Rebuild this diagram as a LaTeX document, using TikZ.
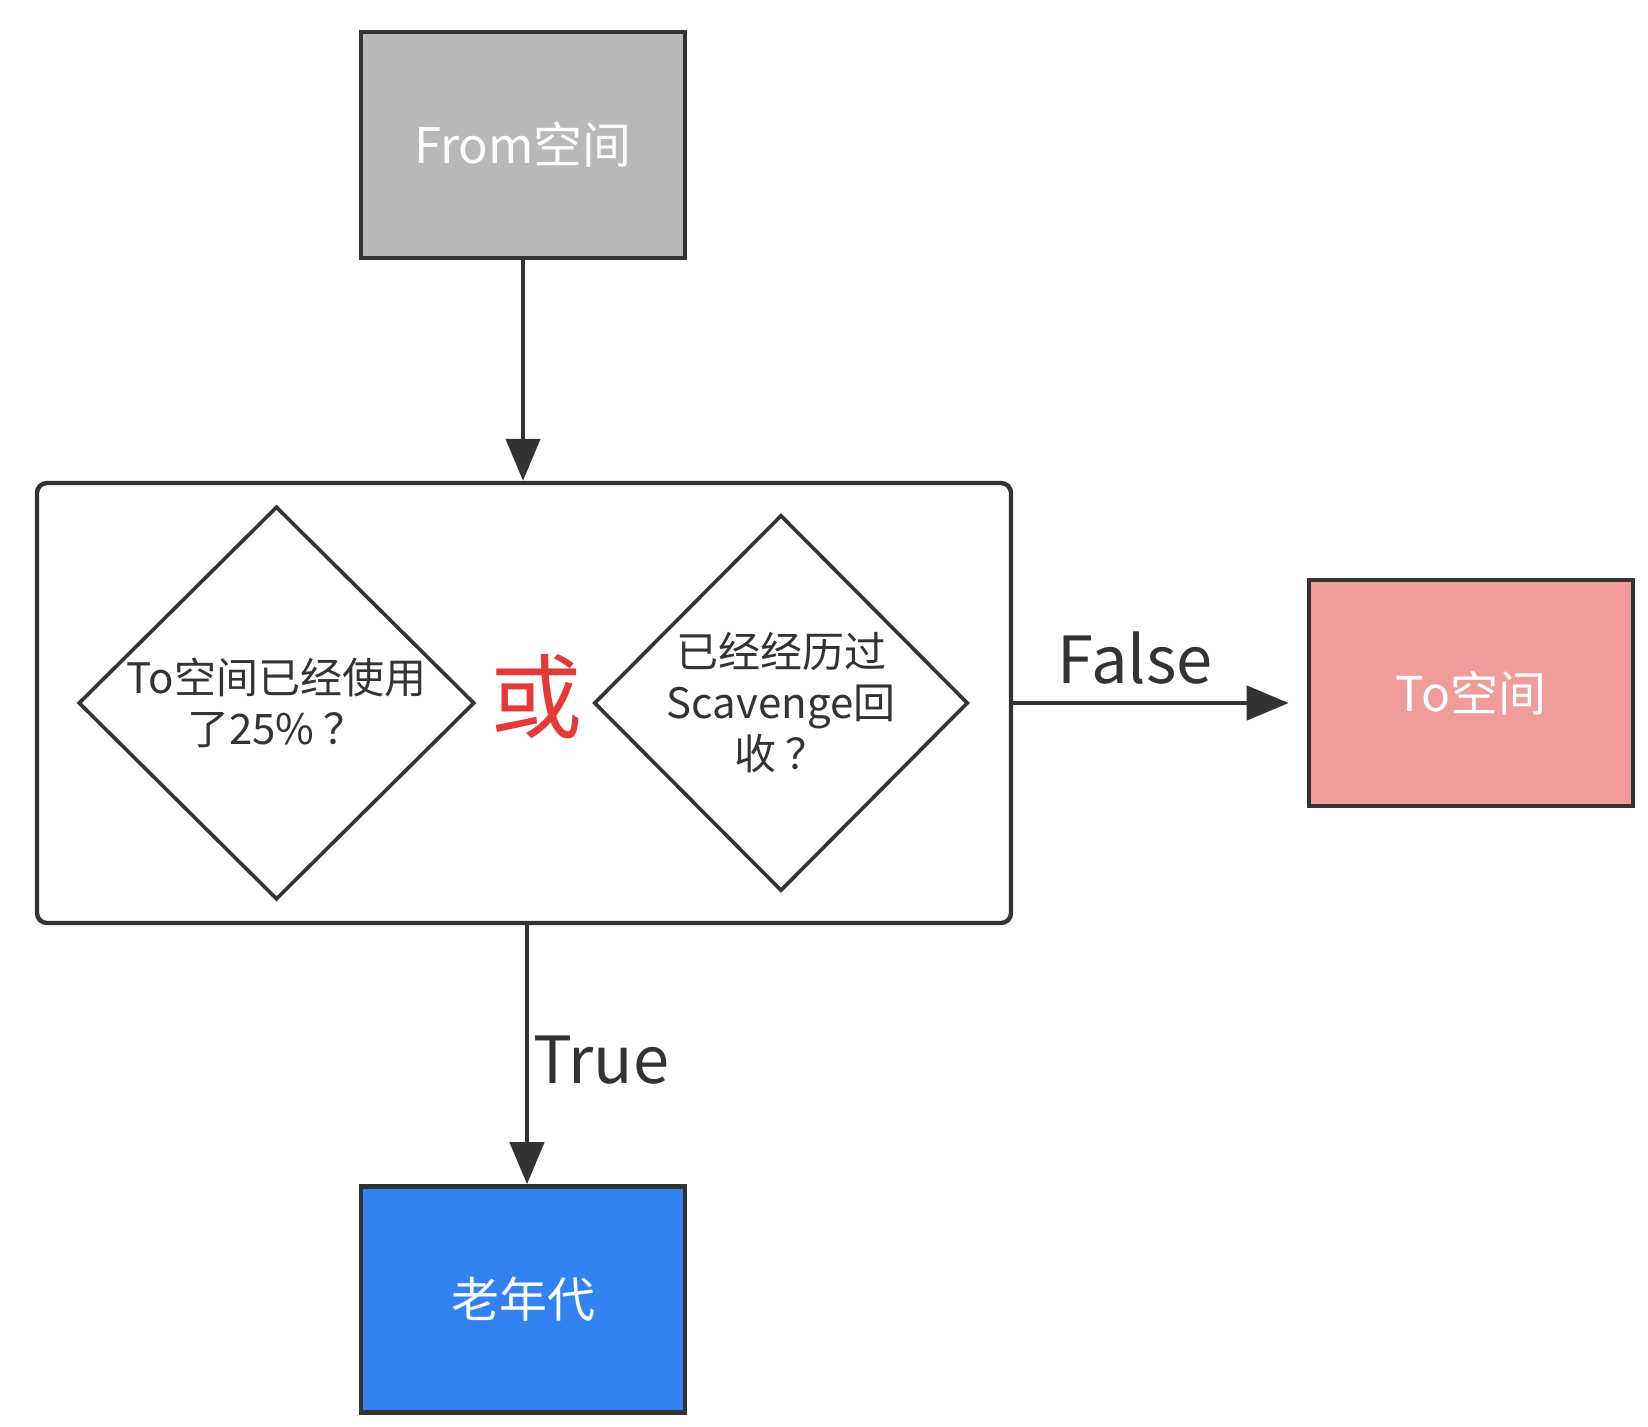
\documentclass[tikz,border=0pt]{standalone}
\usepackage{fontspec}
\setmainfont{Noto Sans CJK SC}
\usetikzlibrary{shapes.geometric,arrows.meta}
\definecolor{linec}{HTML}{333333}
\definecolor{grayfill}{HTML}{B8B8B8}
\definecolor{pinkfill}{HTML}{F09C99}
\definecolor{bluefill}{HTML}{3382F2}
\definecolor{orred}{HTML}{E53935}
\tikzset{
  box/.style={draw=linec, line width=2.3pt, minimum width=162pt, minimum height=113pt, inner sep=0pt, text=white, font=\fontsize{24}{29}\selectfont},
  dia/.style={draw=linec, line width=1.8pt, shape=diamond, inner sep=0pt},
  dtext/.style={text=linec, align=center, font=\fontsize{21}{25.5}\selectfont},
  conn/.style={draw=linec, line width=2.2pt, -{Triangle[length=21pt,width=17pt]}},
  lbl/.style={text=linec, font=\fontsize{32.5}{37}\selectfont, inner sep=0pt}
}
\begin{document}
\begin{tikzpicture}[x=0.5pt,y=-0.5pt]
\useasboundingbox (0,0) rectangle (1648,1426);
\node[box, fill=grayfill, font=\fontsize{24.5}{29}\selectfont] (from) at (523,145) {From空间};
\node[draw=linec, line width=2.2pt, rounded corners=5pt, minimum width=487pt, minimum height=220pt, inner sep=0pt] (cond) at (524,703) {};
\node[dia, minimum width=198pt, minimum height=196.5pt] (d1) at (276.5,703) {};
\node[dtext] (t1) at (276.5,703) {To空间已经使用\\了25\% ？};
\node[dia, minimum width=187pt, minimum height=188pt] (d2) at (781,703) {};
\node[dtext] (t2) at (781,703) {已经经历过\\Scavenge回\\收 ？};
\node[text=orred, font=\fontsize{46}{50}\selectfont, inner sep=0pt] (or) at (536,697) {或};
\node[box, fill=pinkfill] (to) at (1471,693) {To空间};
\node[box, fill=bluefill] (old) at (523,1299.5) {老年代};
\draw[conn] (from.south) -- (from.south |- cond.north);
\draw[conn, shorten >=9pt] (cond.east) -- (cond.east -| to.west);
\node[lbl, anchor=south west] (flbl) at ([xshift=22pt, yshift=9pt]cond.east) {False};
\draw[conn] ([xshift=1.5pt]cond.south) -- ([xshift=1.5pt]cond.south |- old.north) node[lbl, pos=0.52, anchor=west, xshift=2pt] (tlbl) {True};
\end{tikzpicture}
\end{document}
